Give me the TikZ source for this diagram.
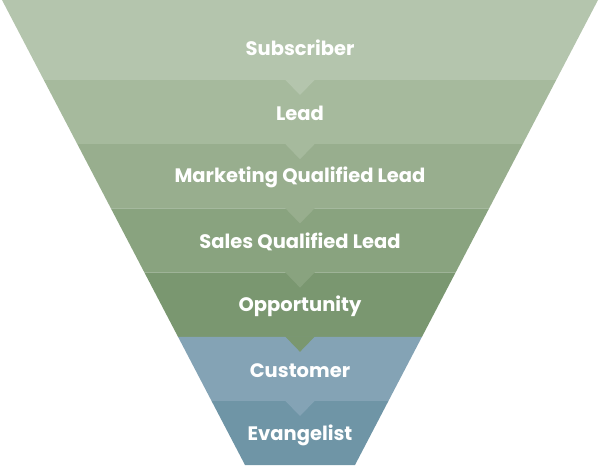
\documentclass[tikz,border=0pt]{standalone}
\usepackage{fontspec}
\setsansfont{Poppins}
\usepackage{xcolor}
\definecolor{banda1}{HTML}{B4C5AD}
\definecolor{banda2}{HTML}{A6BA9D}
\definecolor{banda3}{HTML}{98AE8E}
\definecolor{banda4}{HTML}{89A37F}
\definecolor{banda5}{HTML}{7A9770}
\definecolor{banda6}{HTML}{84A3B5}
\definecolor{banda7}{HTML}{6F95A6}
\tikzset{etiqueta/.style={text=white,font=\sffamily\bfseries\fontsize{19.5}{22}\selectfont,anchor=center}}

\begin{document}
\begin{tikzpicture}[x=1pt,y=-1pt]
  % Ventana y embudo
  \def\cx{300}
  \def\semi{298}
  \def\pend{0.5226}
  \def\muesca{15}
  \useasboundingbox (0,0) rectangle (600,466);

  % Bandas del embudo
  \foreach \yt/\yb/\col in {0/80/banda1,80/144.2/banda2,144.2/208.4/banda3,
    208.4/272.6/banda4,272.6/336.8/banda5,336.8/401/banda6,401/465.2/banda7}{
    \fill[\col] ({\cx-\semi+\pend*\yt},\yt) -- ({\cx+\semi-\pend*\yt},\yt)
      -- ({\cx+\semi-\pend*\yb},\yb) -- ({\cx-\semi+\pend*\yb},\yb) -- cycle;
  }

  % Muescas entre bandas
  \foreach \yb/\col in {80/banda1,144.2/banda2,208.4/banda3,272.6/banda4,
    336.8/banda5,401/banda6}{
    \fill[\col] (\cx-\muesca,\yb-0.5) -- (\cx+\muesca,\yb-0.5) -- (\cx,\yb+\muesca) -- cycle;
  }

  % Etiquetas
  \foreach \nombre/\y/\texto in {subscriber/48/Subscriber,lead/113/Lead,
    mql/177/Marketing Qualified Lead,sql/242/Sales Qualified Lead,
    opportunity/306/Opportunity,customer/371/Customer,evangelist/435/Evangelist}{
    \node[etiqueta] (\nombre) at (\cx,\y) {\texto};
  }
\end{tikzpicture}
\end{document}
